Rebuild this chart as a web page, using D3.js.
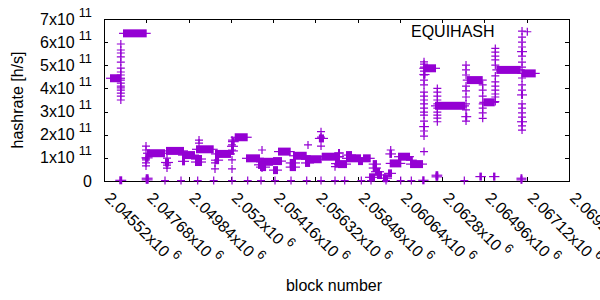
<!DOCTYPE html>
<html>
<head>
<meta charset="utf-8">
<script src="https://cdn.jsdelivr.net/npm/d3@7"></script>
<style>
  body { margin: 0; background: #fff; }
  text { font-family: "Liberation Sans", Arial, sans-serif; font-size: 16px; fill: #000; }
</style>
</head>
<body>
<div id="chart"></div>
<script>
// axis ticks
const xTickValues = [2045520, 2047680, 2049840, 2052000, 2054160, 2056320, 2058480, 2060640, 2062800, 2064960, 2067120, 2069280];
const xTickMantissa = ['2.04552', '2.04768', '2.04984', '2.052', '2.05416', '2.05632', '2.05848', '2.06064', '2.0628', '2.06496', '2.06712', '2.06928'];
const yTickValues = [0, 1e11, 2e11, 3e11, 4e11, 5e11, 6e11, 7e11];
const yTickMantissa = ['0', '1', '2', '3', '4', '5', '6', '7'];

// long runs of blocks at a steady hashrate: [firstBlock, lastBlock, hashrate]
const levelRuns = [
  [2045827, 2046389, 4.44e11], [2046491, 2047702, 6.38e11], [2047717, 2048637, 1.20e11],
  [2048688, 2049608, 1.30e11], [2049506, 2050170, 1.12e11], [2050221, 2051126, 1.37e11],
  [2051192, 2052010, 1.17e11], [2052199, 2052863, 1.89e11], [2052776, 2053492, 0.98e11],
  [2053492, 2054156, 0.83e11], [2054156, 2054616, 0.86e11], [2054411, 2055060, 1.27e11],
  [2055178, 2055878, 1.09e11], [2055791, 2056644, 0.94e11], [2056644, 2057580, 1.05e11],
  [2057477, 2057937, 0.73e11], [2057886, 2058653, 0.98e11], [2058755, 2059148, 0.98e11],
  [2060119, 2060712, 0.76e11], [2060543, 2061157, 1.05e11], [2061157, 2061300, 0.90e11],
  [2061157, 2061821, 0.73e11], [2061836, 2062485, 4.87e11], [2062434, 2063967, 3.25e11],
  [2064054, 2064872, 4.36e11], [2064902, 2065485, 3.40e11], [2065567, 2066813, 4.80e11],
  [2066844, 2067580, 4.65e11]
];

// short bursts of blocks
const bursts = [
  [2046300, 2046450, 0.03e11], [2047640, 2047800, 1.00e11], [2047650, 2047800, 0.12e11],
  [2047650, 2047800, 0.05e11], [2048637, 2048840, 0.80e11], [2049506, 2049660, 0.85e11],
  [2050170, 2050528, 0.95e11], [2050170, 2050528, 0.82e11], [2051192, 2051400, 0.90e11],
  [2052010, 2052160, 1.30e11], [2052010, 2052160, 1.50e11], [2052060, 2052199, 1.70e11],
  [2053390, 2053540, 0.70e11], [2053492, 2053800, 0.60e11], [2054156, 2054411, 0.47e11],
  [2055009, 2055330, 0.78e11], [2055009, 2055330, 0.60e11], [2056500, 2056760, 1.84e11],
  [2055791, 2056050, 0.78e11], [2057324, 2057580, 0.75e11], [2057477, 2057580, 1.21e11],
  [2057886, 2058193, 1.12e11], [2058500, 2058755, 0.86e11], [2059250, 2059470, 0.73e11],
  [2059250, 2059470, 0.56e11], [2059368, 2059624, 0.40e11], [2059470, 2059726, 0.26e11],
  [2059062, 2059368, 0.16e11], [2059777, 2060033, 0.12e11], [2060033, 2060237, 0.33e11],
  [2060100, 2060237, 1.17e11], [2061780, 2061900, 0.03e11], [2062460, 2062600, 0.25e11],
  [2062460, 2062600, 0.18e11], [2064700, 2064830, 0.19e11], [2065400, 2065520, 0.19e11],
  [2066800, 2066900, 0.12e11], [2066800, 2066900, 0.05e11], [2061830, 2061920, 2.35e11],
  [2063980, 2064080, 2.78e11], [2066830, 2066930, 5.59e11], [2066830, 2066930, 3.72e11],
  [2066830, 2066930, 2.56e11], [2061836, 2061950, 4.60e11]
];

// scattered single blocks, grouped by block position
const clusterBlocks = [2046380, 2047666, 2048739, 2050375, 2051192, 2052061, 2053594, 2055944,
  2056609, 2057324, 2057529, 2060170, 2061872, 2062552, 2064018, 2064871, 2065515, 2066880, 2067150];
const clusterHashes = [
  [5.92, 5.66, 5.53, 5.36, 5.14, 4.88, 4.71, 4.58, 4.36, 4.23, 4.10, 4.02, 3.93, 3.80, 3.67, 3.50],
  [1.51, 1.34, 0.99, 0.91, 0.78, 0.65],
  [0.99, 0.78, 0.69, 0.56],
  [1.77, 1.64],
  [0.78, 0.52],
  [1.77, 1.56, 1.34, 0.91, 0.52],
  [1.34, 0.56],
  [1.56],
  [2.13, 1.90, 1.51],
  [0.62],
  [1.21, 1.04],
  [1.34],
  [5.15, 5.05, 4.92, 4.75, 4.58, 4.36, 4.15, 3.84, 3.67, 3.50, 3.33, 3.15, 2.98, 2.85, 2.59, 2.16, 1.94, 1.27],
  [4.00, 3.84, 3.67, 3.50, 3.33, 3.15, 2.98, 2.85, 2.72, 2.56],
  [5.01, 4.80, 4.58, 4.10, 3.89, 3.63, 3.33, 3.07, 2.59],
  [4.15, 3.93, 3.67, 3.33, 3.15, 2.94, 2.71],
  [5.73, 5.57, 5.40, 5.23, 5.01, 4.54, 4.28, 4.10, 3.93, 3.76, 3.63, 3.43],
  [6.48, 6.22, 6.00, 5.79, 5.40, 5.14, 4.92, 4.45, 4.15, 3.93, 3.33, 3.15, 2.94, 2.76, 2.38, 2.20],
  [6.45]
]; // x 1e11

// blocks with (almost) zero hashrate
const zeroBlocks = [2048637, 2049455, 2050308, 2051126, 2052061, 2052863, 2053543, 2054258, 2055076,
  2055878, 2056609, 2057324, 2057820, 2058668, 2059164, 2059930, 2060681, 2061223, 2063931];
const zeroHash = 0.02e11;

const color = '#9400d3';
const tick = 4, arm = 4;

const svg = d3.select('#chart').append('svg')
    .attr('width', 600).attr('height', 300);

const x = d3.scaleLinear().domain([xTickValues[0], xTickValues[xTickValues.length - 1]]).range([104, 569]);
const y = d3.scaleLinear().domain([0, 7e11]).range([181, 19]);

// frame + mirrored inward ticks
const frame = svg.append('g').attr('stroke', '#000').attr('fill', 'none').attr('shape-rendering', 'crispEdges');
frame.append('rect').attr('x', 104.5).attr('y', 19.5).attr('width', 465).attr('height', 162);
xTickValues.forEach(t => {
  const px = Math.round(x(t)) + 0.5;
  frame.append('path').attr('d', `M${px},181V${181 - tick}M${px},19V${19 + tick}`);
});
yTickValues.forEach(t => {
  const py = Math.round(y(t)) + 0.5;
  frame.append('path').attr('d', `M104,${py}H${104 + tick}M569,${py}H${569 - tick}`);
});

// y tick labels  "Nx10^11"
yTickValues.forEach((t, i) => {
  const txt = svg.append('text').attr('x', 92).attr('y', y(t) + 5.5).attr('text-anchor', 'end');
  txt.append('tspan').text(t === 0 ? yTickMantissa[i] : yTickMantissa[i] + 'x10');
  if (t !== 0) txt.append('tspan').attr('dx', 4).attr('dy', -8).attr('font-size', 12.8).text('11');
});

// x tick labels, rotated
xTickValues.forEach((t, i) => {
  const txt = svg.append('text')
      .attr('transform', `translate(${x(t)},199) rotate(45)`);
  txt.append('tspan').text(xTickMantissa[i] + 'x10');
  txt.append('tspan').attr('dx', 4).attr('dy', -8).attr('font-size', 12.8).text('6');
});

svg.append('text').attr('transform', 'translate(23,100) rotate(-90)')
    .attr('text-anchor', 'middle').text('hashrate [h/s]');
svg.append('text').attr('x', 334).attr('y', 291).attr('text-anchor', 'middle').text('block number');
svg.append('text').attr('x', 411).attr('y', 36.5).text('EQUIHASH');

// data
const plot = svg.append('g');
const runs = levelRuns.concat(bursts);
plot.selectAll('rect.run').data(runs).enter().append('rect')
    .attr('class', 'run')
    .attr('x', d => x(d[0]))
    .attr('y', d => y(d[2]) - arm)
    .attr('width', d => Math.max(1, x(d[1]) - x(d[0])))
    .attr('height', arm * 2)
    .attr('fill', color);
plot.selectAll('path.arm').data(runs).enter().append('path')
    .attr('class', 'arm')
    .attr('d', d => `M${x(d[0]) - arm},${y(d[2])}H${x(d[1]) + arm}`)
    .attr('stroke', color).attr('stroke-width', 1.2);

const singles = [];
clusterBlocks.forEach((b, i) => clusterHashes[i].forEach(h => singles.push([b, h * 1e11])));
zeroBlocks.forEach(b => singles.push([b, zeroHash]));

plot.selectAll('path.pt').data(singles).enter().append('path')
    .attr('class', 'pt')
    .attr('d', d => {
      const px = x(d[0]), py = y(d[1]);
      return `M${px - arm},${py}H${px + arm}M${px},${py - arm}V${py + arm}`;
    })
    .attr('stroke', color).attr('stroke-width', 1.2).attr('fill', 'none');
</script>
</body>
</html>
